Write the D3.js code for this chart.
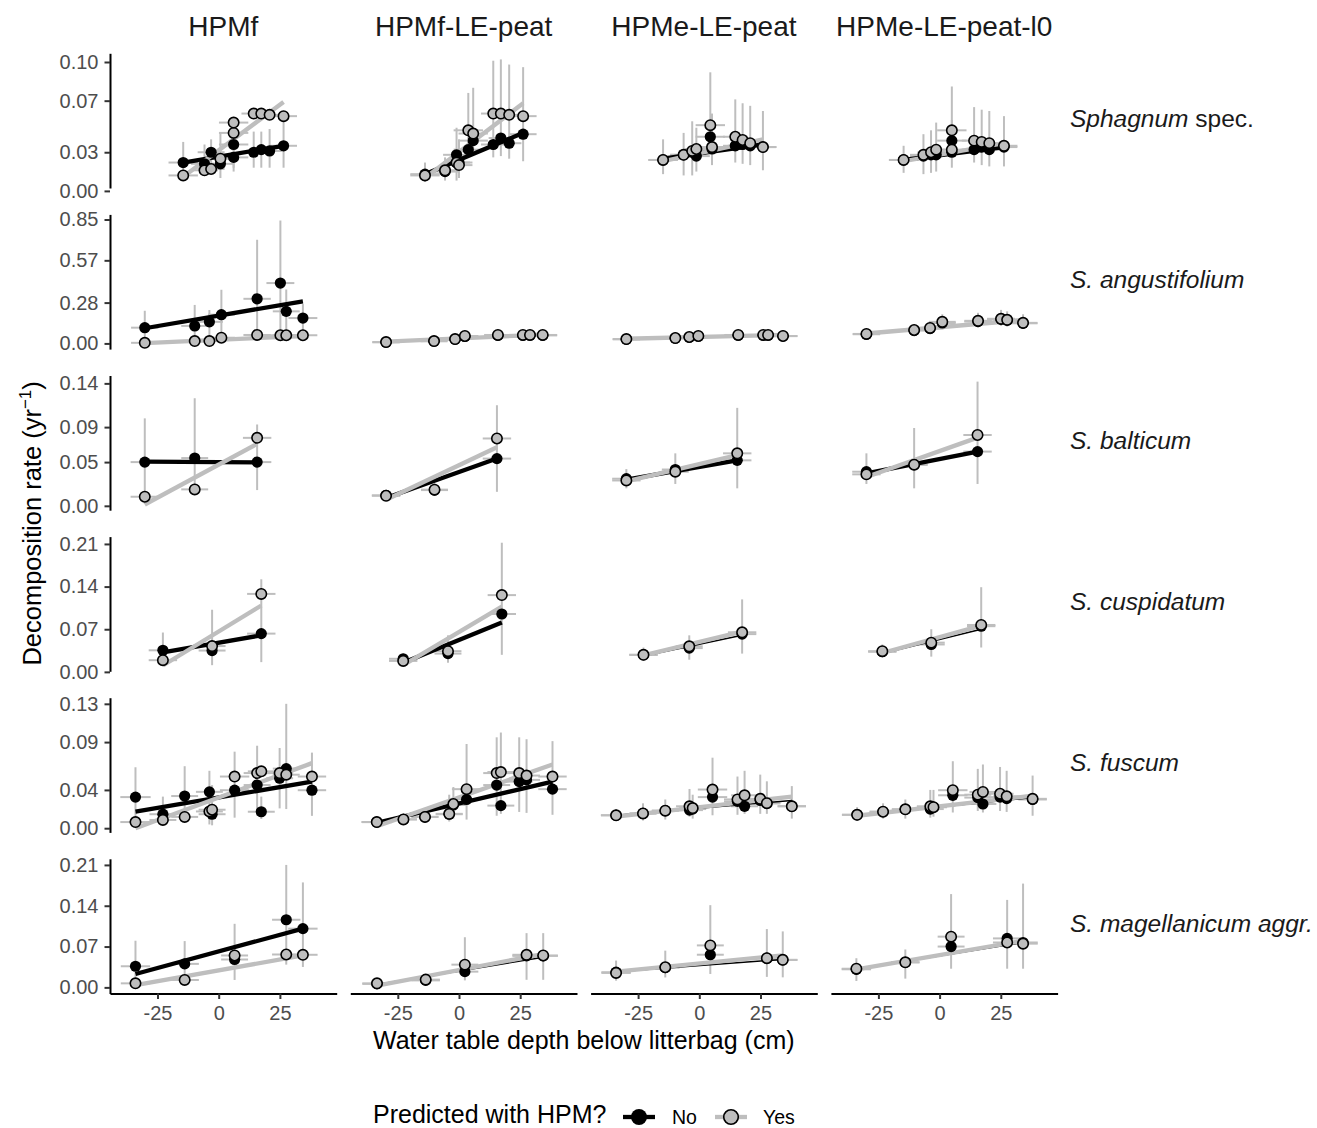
<!DOCTYPE html>
<html>
<head>
<meta charset="utf-8">
<script src="https://cdn.jsdelivr.net/npm/d3@7"></script>
<style>
  body { margin: 0; background: #fff; }
  #chart { width: 1317px; height: 1128px; }
  text { font-family: "Liberation Sans", Arial, sans-serif; }
</style>
</head>
<body>
<div id="chart"></div>
<script>
/* DATA */
const models = ["HPMf", "HPMf-LE-peat", "HPMe-LE-peat", "HPMe-LE-peat-l0"];
const speciesItalic = ["Sphagnum", "S. angustifolium", "S. balticum", "S. cuspidatum", "S. fuscum", "S. magellanicum aggr."];
const speciesPlain = [" spec.", "", "", "", "", ""];
const yTicks = [
  [0, 0.03, 0.07, 0.10],
  [0, 0.28, 0.57, 0.85],
  [0, 0.05, 0.09, 0.14],
  [0, 0.07, 0.14, 0.21],
  [0, 0.04, 0.09, 0.13],
  [0, 0.07, 0.14, 0.21]
];
const xTicks = [-25, 0, 25];
const groups = ["No", "Yes"];

// Sphagnum spec.
const sphX = [
  [-14.5, -5.8, -3.1, 0.7, 6.1, 6.1, 14.3, 17.4, 20.8, 26.5],
  [-13.9, -5.7, -1.0, 0.0, 3.8, 5.8, 14.0, 17.1, 20.5, 26.2],
  [-14.8, -6.4, -2.9, -1.2, 4.5, 5.2, 14.7, 17.7, 20.8, 26.0],
  [-14.7, -6.6, -3.5, -1.4, 5.0, 5.0, 14.1, 17.2, 20.3, 26.3]];
const sphXe = [6, 5.5, 5.5, 5.5, 6, 6, 5, 5, 5, 5.5];
const sphNo = [
  [0.022, 0.021, 0.030, 0.021, 0.036, 0.026, 0.030, 0.032, 0.031, 0.035],
  [0.013, 0.015, 0.028, 0.022, 0.032, 0.039, 0.036, 0.041, 0.037, 0.044],
  [0.024, 0.028, 0.030, 0.027, 0.042, 0.0325, 0.035, 0.036, 0.035, 0.034],
  [0.024, 0.027, 0.028, 0.028, 0.039, 0.030, 0.032, 0.034, 0.032, 0.034]];
const sphYes = [
  [0.012, 0.016, 0.017, 0.025, 0.045, 0.053, 0.060, 0.060, 0.059, 0.058],
  [0.012, 0.016, 0.022, 0.020, 0.047, 0.0445, 0.060, 0.060, 0.059, 0.058],
  [0.024, 0.028, 0.031, 0.0325, 0.051, 0.034, 0.042, 0.0395, 0.037, 0.034],
  [0.024, 0.028, 0.030, 0.032, 0.047, 0.032, 0.039, 0.038, 0.037, 0.035]];
const sphLo = [
  [0.011, 0.012, 0.015, 0.010, 0.018, 0.015, 0.018, 0.018, 0.018, 0.018],
  [0.007, 0.008, 0.008, 0.010, 0.030, 0.029, 0.026, 0.027, 0.025, 0.023],
  [0.013, 0.012, 0.012, 0.015, 0.030, 0.020, 0.022, 0.021, 0.020, 0.016],
  [0.014, 0.013, 0.014, 0.015, 0.026, 0.018, 0.022, 0.020, 0.019, 0.019]];
const sphHi = [
  [0.038, 0.036, 0.040, 0.045, 0.055, 0.047, 0.046, 0.046, 0.048, 0.060],
  [0.022, 0.026, 0.049, 0.040, 0.076, 0.080, 0.101, 0.102, 0.098, 0.096],
  [0.040, 0.045, 0.054, 0.049, 0.092, 0.060, 0.071, 0.068, 0.066, 0.062],
  [0.035, 0.044, 0.047, 0.053, 0.081, 0.055, 0.065, 0.063, 0.062, 0.058]];
const sphFitNo = [[0.022, 0.035], [0.013, 0.045], [0.025, 0.036], [0.024, 0.034]];
const sphFitYes = [[0.011, 0.069], [0.010, 0.068], [0.023, 0.040], [0.023, 0.037]];
const sphBoldNo = [true, true, true, true];
const sphBoldYes = [true, true, true, true];

// S. angustifolium
const angX = [
  [-30.2, -9.8, -3.8, 1.1, 15.7, 25.2, 27.6, 34.4],
  [-29.8, -10.2, -1.6, 2.4, 15.9, 26.1, 29.0, 34.2],
  [-29.8, -9.8, -4.1, -0.4, 15.9, 26.1, 28.1, 34.2],
  [-29.9, -10.4, -3.9, 1.1, 15.7, 25.1, 27.6, 34.1]];
const angXe = [5.6, 5.5, 5.5, 5.5, 5.6, 5.7, 5.5, 5.9];
const angNo = [
  [0.108, 0.120, 0.148, 0.197, 0.306, 0.414, 0.220, 0.174],
  [0.008, 0.015, 0.028, 0.048, 0.055, 0.055, 0.056, 0.055],
  [0.028, 0.036, 0.042, 0.049, 0.056, 0.056, 0.056, 0.050],
  [0.063, 0.088, 0.102, 0.140, 0.150, 0.165, 0.158, 0.138]];
const angYes = [
  [0.004, 0.016, 0.016, 0.039, 0.058, 0.056, 0.056, 0.056],
  [0.009, 0.016, 0.030, 0.051, 0.058, 0.058, 0.058, 0.058],
  [0.030, 0.037, 0.044, 0.051, 0.058, 0.058, 0.058, 0.051],
  [0.065, 0.092, 0.106, 0.148, 0.155, 0.169, 0.162, 0.141]];
const angLo = [
  [0.004, 0.028, 0.039, 0.028, 0.062, 0.050, 0.062, 0.090],
  [0.003, 0.006, 0.012, 0.025, 0.030, 0.030, 0.030, 0.030],
  [0.015, 0.020, 0.025, 0.030, 0.035, 0.035, 0.035, 0.030],
  [0.040, 0.060, 0.070, 0.100, 0.110, 0.120, 0.115, 0.100]];
const angHi = [
  [0.224, 0.264, 0.229, 0.368, 0.711, 0.843, 0.370, 0.270],
  [0.020, 0.030, 0.050, 0.080, 0.090, 0.090, 0.090, 0.090],
  [0.050, 0.060, 0.070, 0.080, 0.090, 0.090, 0.090, 0.080],
  [0.100, 0.130, 0.150, 0.200, 0.210, 0.230, 0.220, 0.200]];
const angFitNo = [[0.104, 0.289], [0.010, 0.058], [0.030, 0.055], [0.065, 0.155]];
const angFitYes = [[0.002, 0.051], [0.012, 0.060], [0.032, 0.058], [0.068, 0.160]];
const angBoldNo = [true, false, false, false];
const angBoldYes = [true, true, true, true];

// S. balticum
const balX = [[-30.2, -9.8, 15.7], [-29.8, -10.0, 15.5], [-29.8, -9.8, 15.5], [-29.9, -10.4, 15.5]];
const balXe = [5.8, 5.5, 5.8];
const balNo = [[0.050, 0.0546, 0.050], [0.012, 0.018, 0.054], [0.031, 0.0415, 0.052], [0.039, 0.047, 0.062]];
const balYes = [[0.0104, 0.0188, 0.0777], [0.0115, 0.0185, 0.077], [0.029, 0.039, 0.060], [0.036, 0.047, 0.081]];
const balLo = [[0.002, 0.020, 0.018], [0.006, 0.012, 0.016], [0.020, 0.025, 0.020], [0.025, 0.020, 0.025]];
const balHi = [[0.100, 0.123, 0.093], [0.018, 0.026, 0.115], [0.042, 0.060, 0.112], [0.060, 0.089, 0.142]];
const balFitNo = [[0.0505, 0.0496], [0.009, 0.054], [0.030, 0.052], [0.037, 0.062]];
const balFitYes = [[0.0015, 0.0708], [0.007, 0.067], [0.028, 0.058], [0.033, 0.078]];
const balBoldNo = [true, true, true, true];
const balBoldYes = [true, true, true, true];

// S. cuspidatum
const cusX = [[-22.8, -2.7, 17.4], [-22.8, -4.5, 17.5], [-22.8, -4.1, 17.5], [-23.4, -3.4, 17.0]];
const cusXe = [5.8, 5.5, 5.8];
const cusNo = [[0.0354, 0.035, 0.0628], [0.0215, 0.030, 0.095], [0.028, 0.039, 0.062], [0.033, 0.045, 0.075]];
const cusYes = [[0.0192, 0.0424, 0.128], [0.018, 0.034, 0.126], [0.028, 0.042, 0.065], [0.034, 0.048, 0.077]];
const cusLo = [[0.0145, 0.011, 0.016], [0.012, 0.015, 0.028], [0.020, 0.020, 0.030], [0.025, 0.025, 0.040]];
const cusHi = [[0.0646, 0.102, 0.152], [0.030, 0.060, 0.212], [0.040, 0.060, 0.119], [0.045, 0.070, 0.139]];
const cusFitNo = [[0.032, 0.060], [0.015, 0.081], [0.026, 0.060], [0.030, 0.070]];
const cusFitYes = [[0.0105, 0.109], [0.011, 0.107], [0.027, 0.066], [0.031, 0.076]];
const cusBoldNo = [true, true, false, false];
const cusBoldYes = [true, true, true, true];

// S. fuscum
const fusX = [
  [-34, -22.8, -13.9, -3.8, -2.7, 6.5, 15.7, 17.4, 24.9, 27.6, 38.1],
  [-33.6, -22.7, -13.9, -4.0, -2.3, 3.1, 15.4, 17.1, 24.6, 27.6, 38.2],
  [-34, -23.0, -13.9, -4.0, -2.7, 5.4, 15.6, 18.5, 24.9, 27.6, 37.8],
  [-33.7, -23.1, -14.0, -3.8, -2.5, 5.4, 15.6, 17.7, 24.7, 27.4, 38.0]];
const fusXe = [6.2, 5.5, 5.5, 5.5, 5.5, 6, 5.5, 5.5, 5.5, 5.5, 5.8];
const fusNo = [
  [0.0325, 0.0146, 0.0336, 0.038, 0.0146, 0.0397, 0.0451, 0.0172, 0.0522, 0.0623, 0.0397],
  [0.0064, 0.0092, 0.0118, 0.0146, 0.0243, 0.030, 0.0451, 0.0236, 0.0487, 0.0505, 0.0408],
  [0.0135, 0.0154, 0.0183, 0.0189, 0.020, 0.0325, 0.028, 0.0229, 0.029, 0.026, 0.023],
  [0.014, 0.0172, 0.0197, 0.020, 0.022, 0.0344, 0.032, 0.0253, 0.0325, 0.031, 0.030]];
const fusYes = [
  [0.0064, 0.0086, 0.0118, 0.0175, 0.0193, 0.054, 0.0576, 0.0594, 0.0576, 0.0559, 0.054],
  [0.0064, 0.0092, 0.0118, 0.015, 0.0253, 0.0408, 0.0576, 0.0587, 0.0576, 0.055, 0.054],
  [0.0135, 0.0154, 0.0183, 0.0229, 0.021, 0.0404, 0.0301, 0.0344, 0.0307, 0.0261, 0.0229],
  [0.014, 0.0172, 0.0197, 0.0229, 0.022, 0.0397, 0.035, 0.0379, 0.036, 0.0333, 0.0307]];
const fusLo = [
  [0.0057, 0.005, 0.0129, 0.0039, 0.003, 0.011, 0.0129, 0.0096, 0.0207, 0.020, 0.0129],
  [0.002, 0.004, 0.006, 0.007, 0.010, 0.009, 0.013, 0.015, 0.017, 0.016, 0.014],
  [0.009, 0.008, 0.009, 0.012, 0.010, 0.0135, 0.014, 0.015, 0.015, 0.015, 0.010],
  [0.008, 0.010, 0.010, 0.011, 0.012, 0.0164, 0.018, 0.0164, 0.018, 0.017, 0.013]];
const fusHi = [
  [0.0637, 0.033, 0.0648, 0.060, 0.045, 0.080, 0.0862, 0.033, 0.0838, 0.130, 0.079],
  [0.012, 0.015, 0.020, 0.035, 0.043, 0.088, 0.095, 0.100, 0.095, 0.093, 0.091],
  [0.020, 0.026, 0.030, 0.041, 0.035, 0.0737, 0.054, 0.060, 0.056, 0.049, 0.044],
  [0.022, 0.026, 0.030, 0.040, 0.040, 0.070, 0.062, 0.0666, 0.064, 0.060, 0.055]];
const fusFitNo = [[0.0172, 0.0487], [0.0057, 0.0487], [0.0135, 0.029], [0.0135, 0.032]];
const fusFitYes = [[0.0, 0.068], [0.002, 0.0666], [0.012, 0.033], [0.013, 0.034]];
const fusBoldNo = [true, true, false, false];
const fusBoldYes = [true, true, true, true];

// S. magellanicum aggr.
const magX = [[-34, -13.9, 6.5, 27.6, 34.4], [-33.5, -13.6, 2.4, 27.6, 34.4], [-34, -13.9, 4.5, 27.6, 34.1], [-34, -14.0, 4.7, 27.6, 34.1]];
const magXe = [6, 5.8, 5.5, 5.8, 6];
const magNo = [[0.0362, 0.0403, 0.0478, 0.116, 0.1007], [0.006, 0.012, 0.027, 0.054, 0.054], [0.026, 0.034, 0.056, 0.050, 0.047], [0.031, 0.043, 0.070, 0.084, 0.077]];
const magYes = [[0.0069, 0.0127, 0.0547, 0.0564, 0.0559], [0.0069, 0.0133, 0.039, 0.0559, 0.0547], [0.0248, 0.0345, 0.072, 0.050, 0.0473], [0.032, 0.043, 0.087, 0.077, 0.075]];
const magLo = [[0.0, 0.0116, 0.0127, 0.039, 0.035], [0.002, 0.006, 0.012, 0.013, 0.013], [0.0115, 0.017, 0.023, 0.018, 0.0172], [0.011, 0.015, 0.032, 0.032, 0.032]];
const magHi = [[0.080, 0.0794, 0.109, 0.210, 0.180], [0.012, 0.020, 0.086, 0.093, 0.093], [0.046, 0.063, 0.141, 0.100, 0.096], [0.050, 0.065, 0.160, 0.150, 0.178]];
const magFitNo = [[0.023, 0.1007], [0.005, 0.0518], [0.027, 0.048], [0.031, 0.077]];
const magFitYes = [[0.004, 0.0547], [0.003, 0.057], [0.027, 0.055], [0.031, 0.080]];
const magBoldNo = [true, false, false, false];
const magBoldYes = [true, true, true, true];

/* SETUP */
const width = 1317, height = 1128;
const panelLeft = 110, panelTop = 53.3;
const panelW = 226.7, panelH = 134.7, colStep = 240.3, rowStep = 161.1;
const greyCol = "#BEBEBE";
const fontFam = "Liberation Sans, Arial, sans-serif";

const rows = [
  {x: sphX, xe: sphXe, no: sphNo, yes: sphYes, lo: sphLo, hi: sphHi, fitNo: sphFitNo, fitYes: sphFitYes, boldNo: sphBoldNo, boldYes: sphBoldYes},
  {x: angX, xe: angXe, no: angNo, yes: angYes, lo: angLo, hi: angHi, fitNo: angFitNo, fitYes: angFitYes, boldNo: angBoldNo, boldYes: angBoldYes},
  {x: balX, xe: balXe, no: balNo, yes: balYes, lo: balLo, hi: balHi, fitNo: balFitNo, fitYes: balFitYes, boldNo: balBoldNo, boldYes: balBoldYes},
  {x: cusX, xe: cusXe, no: cusNo, yes: cusYes, lo: cusLo, hi: cusHi, fitNo: cusFitNo, fitYes: cusFitYes, boldNo: cusBoldNo, boldYes: cusBoldYes},
  {x: fusX, xe: fusXe, no: fusNo, yes: fusYes, lo: fusLo, hi: fusHi, fitNo: fusFitNo, fitYes: fusFitYes, boldNo: fusBoldNo, boldYes: fusBoldYes},
  {x: magX, xe: magXe, no: magNo, yes: magYes, lo: magLo, hi: magHi, fitNo: magFitNo, fitYes: magFitYes, boldNo: magBoldNo, boldYes: magBoldYes}
];

const svg = d3.select("#chart")
  .append("svg")
  .attr("width", width)
  .attr("height", height);

/* SHARED X SCALE */
const xLows = rows.flatMap(r => r.x.flatMap(xs => xs.map((v, i) => v - r.xe[i])));
const xHighs = rows.flatMap(r => r.x.flatMap(xs => xs.map((v, i) => v + r.xe[i])));
const xMin = d3.min(xLows), xMax = d3.max(xHighs);
const xPad = (xMax - xMin) * 0.05;
const xScale = d3.scaleLinear()
  .domain([xMin - xPad, xMax + xPad])
  .range([0, panelW]);

/* PANELS */
rows.forEach((r, ri) => {
  const vals = r.lo.flat().concat(r.hi.flat(), r.no.flat(), r.yes.flat());
  const yMin = d3.min(vals), yMax = d3.max(vals);
  const yPad = (yMax - yMin) * 0.05;
  const yScale = d3.scaleLinear()
    .domain([yMin - yPad, yMax + yPad])
    .range([panelH, 0]);

  models.forEach((m, ci) => {
    const g = svg.append("g")
      .attr("transform", `translate(${panelLeft + ci * colStep},${panelTop + ri * rowStep})`);

    const sites = r.x[ci].map((x, i) => ({
      x: x, xe: r.xe[i],
      no: r.no[ci][i], yes: r.yes[ci][i],
      lo: r.lo[ci][i], hi: r.hi[ci][i]
    }));

    // vertical error bars
    g.selectAll(".vbar").data(sites).enter().append("line")
      .attr("x1", d => xScale(d.x)).attr("x2", d => xScale(d.x))
      .attr("y1", d => yScale(d.lo)).attr("y2", d => yScale(d.hi))
      .attr("stroke", greyCol).attr("stroke-width", 2);

    // horizontal error bars (one per group)
    groups.forEach(gr => {
      const key = gr === "No" ? "no" : "yes";
      g.selectAll(".hbar" + gr).data(sites).enter().append("line")
        .attr("x1", d => xScale(d.x - d.xe)).attr("x2", d => xScale(d.x + d.xe))
        .attr("y1", d => yScale(d[key])).attr("y2", d => yScale(d[key]))
        .attr("stroke", greyCol).attr("stroke-width", 2);
    });

    // fitted lines
    const xr = d3.extent(r.x[ci]);
    const line = d3.line().x(d => xScale(d[0])).y(d => yScale(d[1]));
    g.append("path")
      .datum([[xr[0], r.fitNo[ci][0]], [xr[1], r.fitNo[ci][1]]])
      .attr("d", line)
      .attr("stroke", "#000").attr("fill", "none")
      .attr("stroke-width", r.boldNo[ci] ? 4.3 : 1.5);
    g.append("path")
      .datum([[xr[0], r.fitYes[ci][0]], [xr[1], r.fitYes[ci][1]]])
      .attr("d", line)
      .attr("stroke", greyCol).attr("fill", "none")
      .attr("stroke-width", r.boldYes[ci] ? 4.3 : 1.5);

    // points
    g.selectAll(".ptNo").data(sites).enter().append("circle")
      .attr("cx", d => xScale(d.x)).attr("cy", d => yScale(d.no))
      .attr("r", 5.6).attr("fill", "#000");
    g.selectAll(".ptYes").data(sites).enter().append("circle")
      .attr("cx", d => xScale(d.x)).attr("cy", d => yScale(d.yes))
      .attr("r", 5.2).attr("fill", greyCol)
      .attr("stroke", "#000").attr("stroke-width", 1.6);

    // y axis on first column
    if (ci === 0) {
      const ya = g.append("g")
        .call(d3.axisLeft(yScale).tickValues(yTicks[ri])
          .tickFormat(d3.format(".2f")).tickSize(5.5).tickSizeOuter(0).tickPadding(6));
      ya.select(".domain").attr("stroke", "#000").attr("stroke-width", 2);
      ya.selectAll(".tick line").attr("stroke", "#333").attr("stroke-width", 2);
      ya.selectAll(".tick text").attr("fill", "#4D4D4D")
        .style("font-size", "20px").style("font-family", fontFam);
    }

    // x axis on last row
    if (ri === rows.length - 1) {
      const xa = g.append("g")
        .attr("transform", `translate(0,${panelH})`)
        .call(d3.axisBottom(xScale).tickValues(xTicks)
          .tickFormat(d => String(d)).tickSize(5.5).tickSizeOuter(0).tickPadding(7));
      xa.select(".domain").attr("stroke", "#000").attr("stroke-width", 2);
      xa.selectAll(".tick line").attr("stroke", "#333").attr("stroke-width", 2);
      xa.selectAll(".tick text").attr("fill", "#4D4D4D")
        .style("font-size", "20px").style("font-family", fontFam);
    }

    // column strip
    if (ri === 0) {
      svg.append("text")
        .attr("x", panelLeft + ci * colStep + panelW / 2)
        .attr("y", 36)
        .attr("text-anchor", "middle")
        .attr("fill", "#1A1A1A")
        .style("font-size", "28px")
        .text(m);
    }
  });

  // row strip
  const rt = svg.append("text")
    .attr("x", 1070)
    .attr("y", panelTop + ri * rowStep + panelH / 2 + 6)
    .attr("fill", "#1A1A1A")
    .style("font-size", "24.5px");
  rt.append("tspan").style("font-style", "italic").text(speciesItalic[ri]);
  if (speciesPlain[ri]) rt.append("tspan").text(speciesPlain[ri]);
});

/* AXIS TITLES */
svg.append("text")
  .attr("x", panelLeft + (3 * colStep + panelW) / 2)
  .attr("y", 1049)
  .attr("text-anchor", "middle")
  .attr("fill", "#000")
  .style("font-size", "25px")
  .text("Water table depth below litterbag (cm)");

const yt = svg.append("text")
  .attr("transform", `translate(41,${panelTop + (5 * rowStep + panelH) / 2}) rotate(-90)`)
  .attr("text-anchor", "middle")
  .attr("fill", "#000")
  .style("font-size", "25.5px");
yt.append("tspan").text("Decomposition rate (yr");
yt.append("tspan").attr("dy", -10).style("font-size", "17px").text("\u22121");
yt.append("tspan").attr("dy", 10).text(")");

/* LEGEND */
const legY = 1117;
svg.append("text")
  .attr("x", 373).attr("y", 1122.5)
  .attr("fill", "#000")
  .style("font-size", "25px")
  .text("Predicted with HPM?");

const legendItems = [
  {label: "No", x0: 623, col: "#000", fill: "#000", stroke: "none", r: 8, tx: 672},
  {label: "Yes", x0: 715, col: greyCol, fill: greyCol, stroke: "#000", r: 7.3, tx: 763}
];
const leg = svg.selectAll(".legItem").data(legendItems).enter().append("g");
leg.append("line")
  .attr("x1", d => d.x0).attr("x2", d => d.x0 + 32)
  .attr("y1", legY).attr("y2", legY)
  .attr("stroke", d => d.col).attr("stroke-width", 4.3);
leg.append("circle")
  .attr("cx", d => d.x0 + 16).attr("cy", legY)
  .attr("r", d => d.r)
  .attr("fill", d => d.fill).attr("stroke", d => d.stroke).attr("stroke-width", 1.6);
leg.append("text")
  .attr("x", d => d.tx).attr("y", legY + 7)
  .attr("fill", "#000")
  .style("font-size", "19.5px")
  .text(d => d.label);
</script>
</body>
</html>
